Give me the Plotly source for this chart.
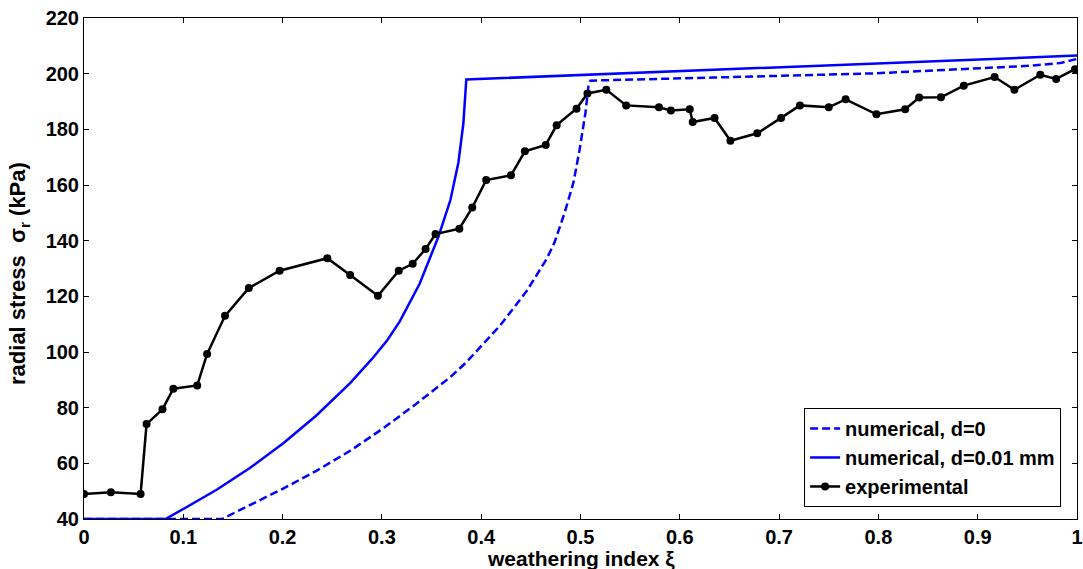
import plotly.graph_objects as go

# ---- data ----
exp_x = [0.0, 0.027, 0.057, 0.063, 0.079, 0.090, 0.114, 0.124, 0.142, 0.166,
         0.197, 0.245, 0.268, 0.296, 0.317, 0.331, 0.344, 0.354, 0.378, 0.391,
         0.405, 0.430, 0.444, 0.465, 0.476, 0.496, 0.507, 0.526, 0.546, 0.579,
         0.591, 0.610, 0.613, 0.635, 0.651, 0.678, 0.702, 0.721, 0.750, 0.767,
         0.798, 0.827, 0.841, 0.863, 0.886, 0.917, 0.937, 0.963, 0.979, 0.998]
exp_y = [49.0, 49.6, 49.0, 74.1, 79.4, 86.8, 88.0, 99.3, 113.0, 123.0,
         129.2, 133.7, 127.7, 120.2, 129.2, 131.7, 137.0, 142.4, 144.3, 151.9,
         161.8, 163.5, 172.1, 174.4, 181.5, 187.4, 192.9, 194.2, 188.6, 187.9,
         186.8, 187.2, 182.6, 184.1, 175.9, 178.6, 184.1, 188.6, 187.9, 190.8,
         185.4, 187.2, 191.4, 191.5, 195.7, 198.8, 194.2, 199.6, 198.1, 201.6]

num_d001_x = [0.0, 0.082, 0.100, 0.134, 0.167, 0.201, 0.234, 0.268, 0.290, 0.305,
              0.318, 0.338, 0.357, 0.369, 0.377, 0.382, 0.385, 1.0]
num_d001_y = [40.0, 40.0, 43.6, 50.6, 58.3, 67.3, 77.2, 88.8, 97.5, 104.0,
              111.0, 124.5, 141.5, 154.6, 168.0, 182.0, 197.9, 206.5]

num_d0_x = [0.0, 0.139, 0.167, 0.201, 0.234, 0.268, 0.301, 0.335, 0.369, 0.385,
            0.419, 0.446, 0.466, 0.474, 0.484, 0.493, 0.499, 0.505, 0.508, 0.510,
            0.634, 0.795, 0.882, 0.950, 0.983, 1.0]
num_d0_y = [40.0, 40.0, 45.0, 51.0, 57.3, 64.5, 72.5, 81.5, 91.0, 96.3,
            109.5, 122.0, 133.5, 139.5, 150.0, 161.0, 172.5, 186.0, 195.5, 197.5,
            198.6, 200.1, 201.6, 202.8, 203.8, 205.3]

x_ticks = [0, 0.1, 0.2, 0.3, 0.4, 0.5, 0.6, 0.7, 0.8, 0.9, 1]
x_tick_labels = ["0", "0.1", "0.2", "0.3", "0.4", "0.5", "0.6", "0.7", "0.8", "0.9", "1"]
y_ticks = [40, 60, 80, 100, 120, 140, 160, 180, 200, 220]
y_tick_labels = [str(v) for v in y_ticks]

FONT = "Liberation Sans, Arial, Helvetica, sans-serif"

fig = go.Figure()
fig.add_trace(go.Scatter(x=num_d0_x, y=num_d0_y, mode="lines",
                         name="numerical, d=0",
                         line=dict(color="#0000ff", width=2.5, dash="8px,4px")))
fig.add_trace(go.Scatter(x=num_d001_x, y=num_d001_y, mode="lines",
                         name="numerical, d=0.01 mm",
                         line=dict(color="#0000ff", width=2.5)))
fig.add_trace(go.Scatter(x=exp_x, y=exp_y, mode="lines+markers",
                         name="experimental",
                         line=dict(color="black", width=2.5),
                         marker=dict(color="black", size=8, symbol="circle")))

axis_common = dict(showgrid=False, zeroline=False, showline=True, linecolor="black",
                   linewidth=1, mirror="ticks", ticks="inside", ticklen=5,
                   tickcolor="black", automargin=False,
                   tickfont=dict(family=FONT, size=20, color="black", weight="bold"))

fig.update_xaxes(range=[0, 1], tickvals=x_ticks, ticktext=x_tick_labels, **axis_common)
fig.update_yaxes(range=[40, 220], tickvals=y_ticks, ticktext=y_tick_labels, **axis_common)

fig.update_layout(
    width=1083, height=569, autosize=False,
    margin=dict(l=84, r=6, t=18, b=50, autoexpand=False),
    paper_bgcolor="white", plot_bgcolor="white",
    font=dict(family=FONT, color="black", weight="bold"),
    showlegend=True,
    legend=dict(x=0.984, y=0.024, xanchor="right", yanchor="bottom",
                bgcolor="white", bordercolor="black", borderwidth=1,
                font=dict(family=FONT, size=20, color="black", weight="bold"),
                itemwidth=30, tracegroupgap=0),
    annotations=[
        dict(text="weathering index ξ", x=0.5, y=-0.078, xref="paper", yref="paper",
             xanchor="center", yanchor="middle", showarrow=False,
             font=dict(family=FONT, size=21, color="black", weight="bold")),
        dict(text="radial stress  σ<sub>r</sub> (kPa)", x=-0.066, y=0.49,
             xref="paper", yref="paper", xanchor="center", yanchor="middle",
             textangle=-90, showarrow=False,
             font=dict(family=FONT, size=22, color="black", weight="bold")),
    ],
)

fig.write_html("out.html")
